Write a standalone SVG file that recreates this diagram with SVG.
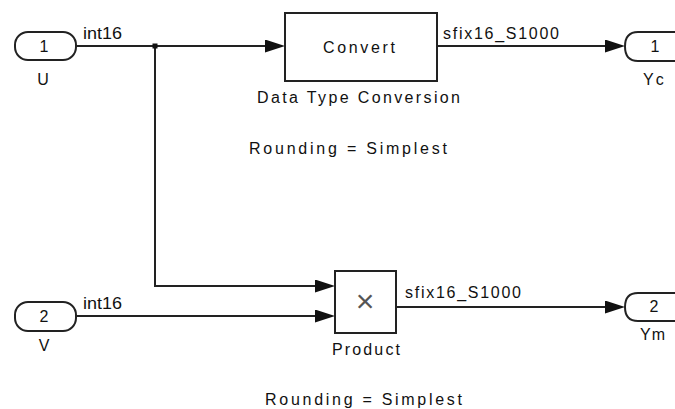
<svg xmlns="http://www.w3.org/2000/svg" width="675" height="409" viewBox="0 0 675 409">
<style>
  .ln { fill: none; stroke: #222; stroke-width: 2; }
  .blk { fill: #fff; stroke: #222; stroke-width: 2; }
  .t { font-family: "Liberation Sans", Arial, sans-serif; font-size: 16px; fill: #111; }
  .m { text-anchor: middle; }
</style>
<defs>
  <marker id="arr" markerUnits="userSpaceOnUse" markerWidth="22" markerHeight="14" refX="10" refY="6.5" orient="auto">
    <path d="M0,0 L20,6.5 L0,13 Z" fill="#111"/>
  </marker>
</defs>

<g id="connectors">
  <path class="ln" d="M76,46 H275" marker-end="url(#arr)"/>
  <path class="ln" d="M155,46 V286 H325" marker-end="url(#arr)"/>
  <path class="ln" d="M76,316 H325" marker-end="url(#arr)"/>
  <path class="ln" d="M437,46 H615" marker-end="url(#arr)"/>
  <path class="ln" d="M396,307 H615" marker-end="url(#arr)"/>
  <rect x="152.5" y="43.5" width="5" height="5" fill="#111"/>
  <text class="t" x="83" y="39" textLength="39" lengthAdjust="spacingAndGlyphs">int16</text>
  <text class="t" x="83" y="309" textLength="39" lengthAdjust="spacingAndGlyphs">int16</text>
  <text class="t" x="443" y="39" textLength="116" lengthAdjust="spacing">sfix16_S1000</text>
  <text class="t" x="405" y="298" textLength="116" lengthAdjust="spacing">sfix16_S1000</text>
</g>

<g id="inport-U">
  <rect class="blk" x="15" y="32" width="61" height="28" rx="13" ry="13"/>
  <text class="t m" x="44" y="52">1</text>
  <text class="t m" x="43" y="85">U</text>
</g>

<g id="inport-V">
  <rect class="blk" x="15" y="302" width="61" height="29" rx="13" ry="13"/>
  <text class="t m" x="44" y="322">2</text>
  <text class="t m" x="44" y="351">V</text>
</g>

<g id="convert">
  <rect class="blk" x="285" y="13" width="152" height="68"/>
  <text class="t" x="323" y="53" textLength="72" lengthAdjust="spacing">Convert</text>
  <text class="t" x="257" y="103" textLength="203" lengthAdjust="spacing">Data Type Conversion</text>
  <text class="t" x="249" y="154" textLength="198" lengthAdjust="spacing">Rounding = Simplest</text>
</g>

<g id="product">
  <rect class="blk" x="335" y="271" width="61" height="62"/>
  <text x="365" y="312" text-anchor="middle" font-family="Liberation Sans, Arial, sans-serif" font-size="32" fill="#555">×</text>
  <text class="t" x="332" y="355" textLength="68" lengthAdjust="spacing">Product</text>
  <text class="t" x="265" y="405" textLength="197" lengthAdjust="spacing">Rounding = Simplest</text>
</g>

<g id="outport-Yc">
  <path class="blk" d="M677,32 H638 Q625,32 625,46.5 Q625,61 638,61 H677"/>
  <text class="t m" x="655" y="52">1</text>
  <text class="t" x="643" y="85" letter-spacing="2">Yc</text>
</g>

<g id="outport-Ym">
  <path class="blk" d="M677,293 H638 Q625,293 625,307 Q625,321 638,321 H677"/>
  <text class="t m" x="654" y="312">2</text>
  <text class="t" x="640" y="340" letter-spacing="1">Ym</text>
</g>
</svg>
